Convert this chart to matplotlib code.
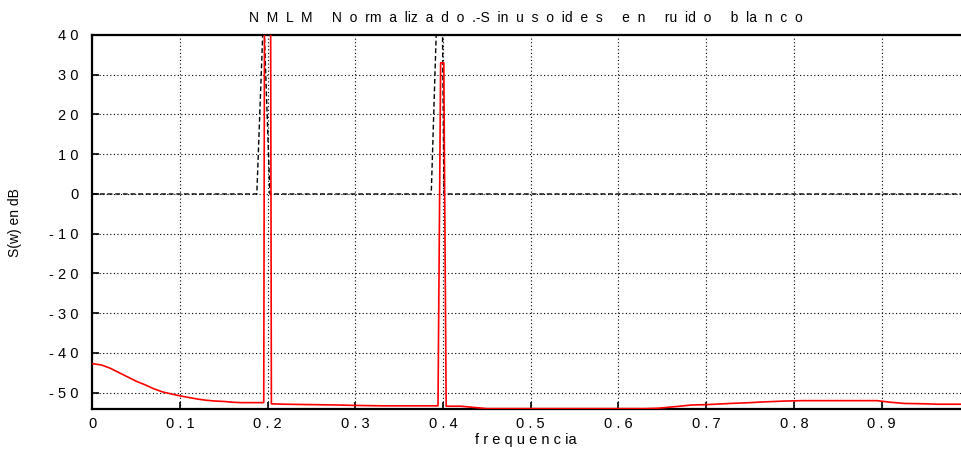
import matplotlib
matplotlib.use("Agg")
import matplotlib.pyplot as plt
import numpy as np

plt.rcParams['font.family'] = ['Liberation Sans', 'DejaVu Sans']

# Estimated spectrum (normalized MLM), in dB
freq_est = [0.0, 0.01, 0.02, 0.03, 0.04, 0.05, 0.06, 0.07, 0.08, 0.09, 0.10,
            0.11, 0.12, 0.13, 0.14, 0.15, 0.16, 0.17, 0.18, 0.19, 0.1955,
            0.1965, 0.2000, 0.2032, 0.2042,
            0.22, 0.25, 0.28, 0.30, 0.33, 0.36, 0.38, 0.3942,
            0.3972, 0.4008, 0.4035,
            0.42, 0.43, 0.45, 0.50, 0.55, 0.60, 0.63, 0.645, 0.655, 0.67, 0.683,
            0.70, 0.728, 0.75, 0.767, 0.79, 0.808, 0.85, 0.895, 0.91, 0.926,
            0.95, 0.964, 0.99]
spec_est = [-42.7, -43.0, -43.8, -44.9, -46.0, -47.1, -48.0, -49.0, -49.8, -50.3, -50.8,
            -51.2, -51.6, -51.9, -52.1, -52.2, -52.4, -52.5, -52.5, -52.5, -52.5,
            60.0, 70.0, 60.0, -52.8,
            -52.9, -53.0, -53.1, -53.2, -53.3, -53.3, -53.3, -53.3,
            33.0, 33.0, -53.4,
            -53.4, -53.6, -54.0, -54.0, -54.0, -54.0, -54.0, -53.9, -53.7, -53.4, -53.1,
            -53.0, -52.7, -52.5, -52.3, -52.1, -52.0, -52.0, -52.0, -52.4, -52.7,
            -52.8, -52.9, -52.9]

# Reference spectrum: 0 dB white noise plus two sinusoids
freq_ref = [0.0, 0.1876, 0.1953, 0.2025, 0.3865, 0.3945, 0.3985, 0.4010, 0.9917]
spec_ref = [0.0, 0.0, 46.0, 0.0, 0.0, 57.0, 60.0, 0.0, 0.0]

xticks = [0.0, 0.1, 0.2, 0.3, 0.4, 0.5, 0.6, 0.7, 0.8, 0.9]
xticklabels = ["0", "0 . 1", "0 . 2", "0 . 3", "0 . 4", "0 . 5", "0 . 6", "0 . 7", "0 . 8", "0 . 9"]
yticks = [-50, -40, -30, -20, -10, 0, 10, 20, 30, 40]
yticklabels = ["- 5 0", "- 4 0", "- 3 0", "- 2 0", "- 1 0", "0", "1 0", "2 0", "3 0", "4 0"]

title = "N  M  L  M     N  o  rm  a  liz  a  d  o  .-S  in  u  s  o  id  e  s     e  n     ru  id  o     b  la  n  c  o"
xlabel = "f r e q u e n c ia"
ylabel = "S(w) en dB"

fig = plt.figure(figsize=(9.62, 4.51), dpi=100)
ax = fig.add_axes([92.3 / 962, 1 - 409 / 451, 1 - 92.3 / 962, (409 - 35) / 451])

ax.plot(freq_ref, spec_ref, color="black", lw=1.0, linestyle=(0, (3.5, 2)), zorder=2)
ax.plot(freq_est, spec_est, color="#ff0000", lw=1.2, zorder=3)

ax.set_xlim(0, 0.9917)
ax.set_ylim(-54.1, 40)

ax.set_xticks(xticks)
ax.set_xticklabels(xticklabels)
ax.set_yticks(yticks)
ax.set_yticklabels(yticklabels)

ax.grid(True, color="black", linestyle=(0, (1, 2.2)), lw=0.8)
ax.set_axisbelow(True)

ax.tick_params(axis="both", direction="in", length=5, width=1.2, labelsize=10.5, color="black")
ax.tick_params(axis="y", pad=10)
ax.tick_params(axis="x", pad=6)

for side in ("left", "bottom", "top"):
    ax.spines[side].set_linewidth(1.6)
    ax.spines[side].set_color("black")
ax.spines["right"].set_visible(False)

fig.text(0.547, 1 - 18 / 451, title, ha="center", va="center", fontsize=10)
fig.text(0.547, 1 - 440 / 451, xlabel, ha="center", va="center", fontsize=10.5)
fig.text(15 / 962, 1 - 223 / 451, ylabel, ha="center", va="center", rotation=90, fontsize=10)

fig.savefig("out.png", dpi=100)
